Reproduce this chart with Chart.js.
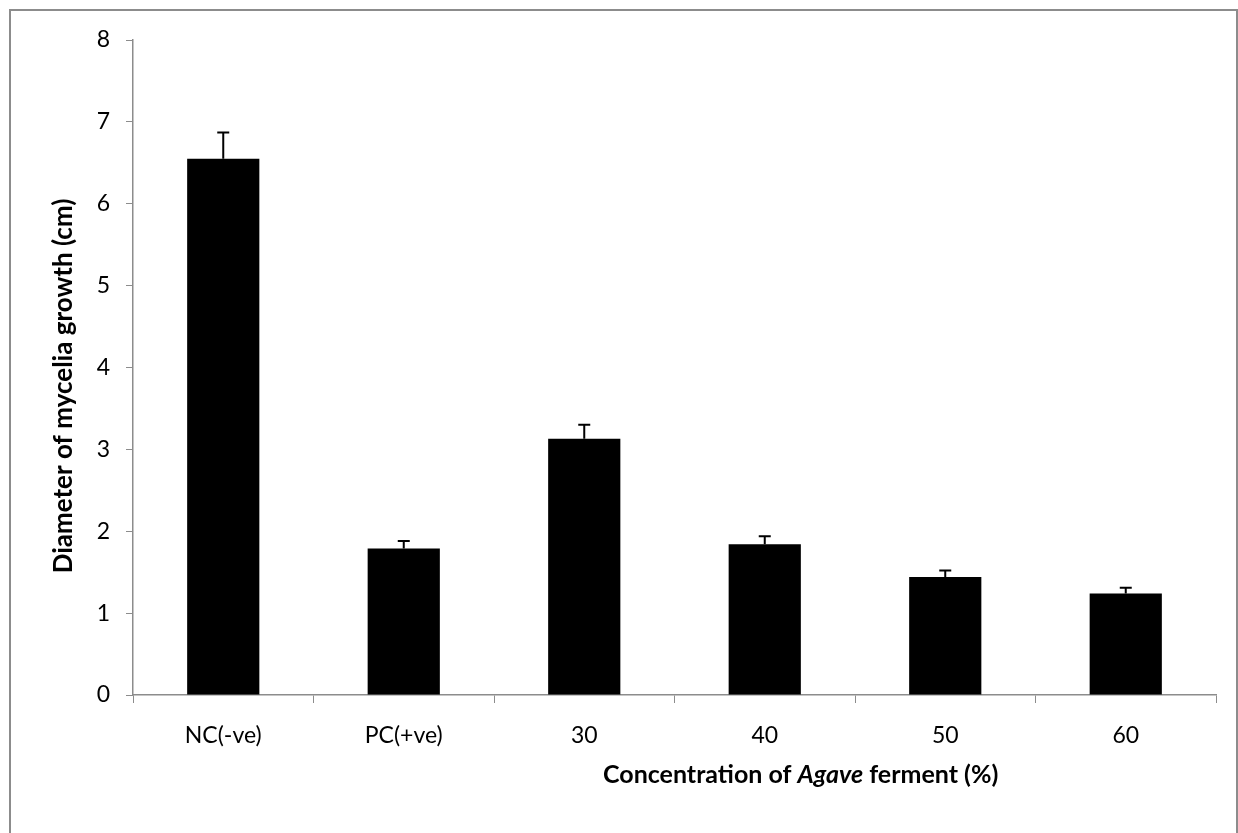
<!DOCTYPE html>
<html>
<head>
<meta charset="utf-8">
<script src="https://cdn.jsdelivr.net/npm/chart.js@4"></script>
<style>
  html, body { margin: 0; padding: 0; background: #fff; }
  #wrap { position: relative; width: 1238px; height: 833px; }
  #frame { position: absolute; left: 9px; top: 9px; width: 1225px; height: 840px; border: 2px solid #8c8c8c; }
  canvas { position: absolute; left: 0; top: 0; }
</style>
</head>
<body>
<div id="wrap">
  <div id="frame"></div>
  <canvas id="barChart" width="1238" height="833"></canvas>
</div>
<script>
// categories and values
const categories = ['NC(-ve)', 'PC(+ve)', '30', '40', '50', '60'];
const means = [6.55, 1.79, 3.13, 1.84, 1.44, 1.24];
const errors = [0.32, 0.09, 0.17, 0.10, 0.08, 0.07];
const yTicks = [0, 1, 2, 3, 4, 5, 6, 7, 8];

const fontFamily = 'Lato, "Open Sans", sans-serif';

// error bars (upper only)
const errorBars = {
  id: 'errorBars',
  afterDatasetsDraw(chart) {
    const ctx = chart.ctx;
    const meta = chart.getDatasetMeta(0);
    const y = chart.scales.y;
    ctx.save();
    ctx.strokeStyle = '#000';
    ctx.lineWidth = 2;
    meta.data.forEach((bar, i) => {
      const top = y.getPixelForValue(means[i] + errors[i]);
      const base = y.getPixelForValue(means[i]);
      ctx.beginPath();
      ctx.moveTo(bar.x, base);
      ctx.lineTo(bar.x, top);
      ctx.moveTo(bar.x - 6, top);
      ctx.lineTo(bar.x + 6, top);
      ctx.stroke();
    });
    ctx.restore();
  }
};

// axis titles (x title has an italic word)
const axisTitles = {
  id: 'axisTitles',
  afterDraw(chart) {
    const ctx = chart.ctx;
    ctx.save();
    ctx.fillStyle = '#000';
    ctx.textBaseline = 'middle';
    const parts = [
      ['Concentration of ', 'bold'],
      ['Agave', 'italic bold'],
      [' ferment (%)', 'bold']
    ];
    let x = 603;
    parts.forEach(p => {
      ctx.font = p[1] + ' 25px ' + fontFamily;
      ctx.textAlign = 'left';
      ctx.fillText(p[0], x, 775);
      x += ctx.measureText(p[0]).width;
    });
    ctx.translate(64, 386);
    ctx.rotate(-Math.PI / 2);
    ctx.textAlign = 'center';
    ctx.font = 'bold 26px ' + fontFamily;
    ctx.fillText('Diameter of mycelia growth (cm)', 0, 0);
    ctx.restore();
  }
};

const ctx = document.getElementById('barChart').getContext('2d');
const myChart = new Chart(ctx, {
  type: 'bar',
  data: {
    labels: categories,
    datasets: [{
      data: means,
      backgroundColor: '#000',
      borderWidth: 0,
      barPercentage: 0.4,
      categoryPercentage: 1.0
    }]
  },
  options: {
    responsive: false,
    animation: false,
    layout: { padding: { top: 40, right: 22, left: 0, bottom: 0 } },
    plugins: { legend: { display: false }, tooltip: { enabled: false } },
    scales: {
      x: {
        afterFit(scale) { scale.height = 138; },
        grid: { drawOnChartArea: false, drawTicks: true, tickLength: 8, color: '#8c8c8c', offset: true },
        border: { color: '#8c8c8c', width: 1.5 },
        ticks: { color: '#000', font: { family: fontFamily, size: 23 }, padding: 19 }
      },
      y: {
        min: 0,
        max: 8,
        afterFit(scale) { scale.width = 133; },
        afterBuildTicks(scale) { scale.ticks = yTicks.map(v => ({ value: v })); },
        grid: { drawOnChartArea: false, drawTicks: true, tickLength: 7, color: '#8c8c8c' },
        border: { color: '#8c8c8c', width: 1.5 },
        ticks: { color: '#000', font: { family: fontFamily, size: 23 }, padding: 16 }
      }
    }
  },
  plugins: [errorBars, axisTitles]
});
</script>
</body>
</html>
